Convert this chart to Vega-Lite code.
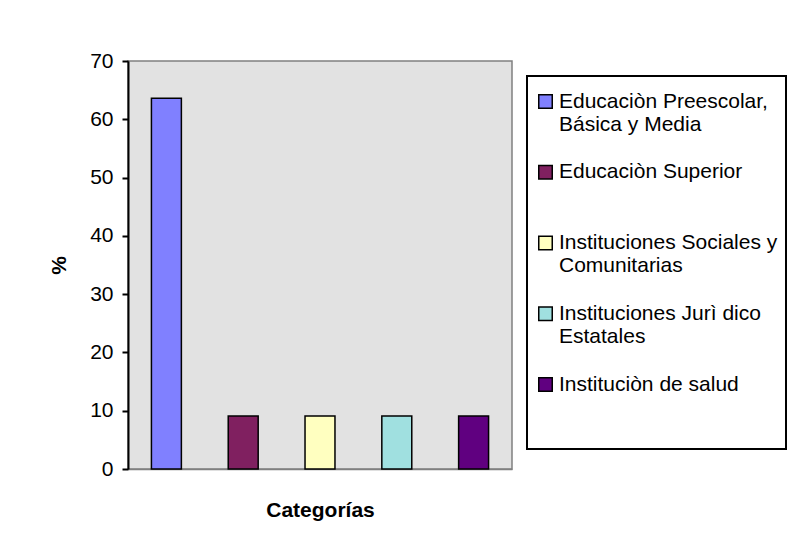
{
  "$schema": "https://vega.github.io/schema/vega-lite/v6.json",
  "width": 384,
  "height": 408,
  "autosize": {"type": "none"},
  "padding": {"left": 128, "top": 61, "right": 288, "bottom": 87},
  "background": "white",
  "data": {
    "values": [
      {"cat": "Educaciòn Preescolar, Básica y Media", "pct": 63.6},
      {"cat": "Educaciòn Superior", "pct": 9.1},
      {"cat": "Instituciones Sociales y Comunitarias", "pct": 9.1},
      {"cat": "Instituciones Jurì dico Estatales", "pct": 9.1},
      {"cat": "Instituciòn de salud", "pct": 9.1}
    ]
  },
  "mark": {"type": "bar", "stroke": "black", "strokeWidth": 1.5},
  "encoding": {
    "x": {
      "field": "cat",
      "type": "nominal",
      "sort": null,
      "scale": {"paddingInner": 0.61, "paddingOuter": 0.305},
      "axis": {
        "title": "Categorías",
        "labels": false,
        "ticks": false,
        "domainColor": "#808080",
        "domainWidth": 1.5,
        "titleFontSize": 21,
        "titleFontWeight": "bold",
        "titleColor": "black",
        "titlePadding": 30
      }
    },
    "y": {
      "field": "pct",
      "type": "quantitative",
      "scale": {"domain": [0, 70], "nice": false},
      "axis": {
        "title": "%",
        "values": [0, 10, 20, 30, 40, 50, 60, 70],
        "grid": false,
        "domainColor": "black",
        "domainWidth": 2,
        "tickColor": "black",
        "tickWidth": 2,
        "tickSize": 6,
        "labelFontSize": 21,
        "labelColor": "black",
        "labelPadding": 9,
        "titleFontSize": 21,
        "titleFontWeight": "bold",
        "titleColor": "black",
        "titlePadding": 20
      }
    },
    "color": {
      "field": "cat",
      "type": "nominal",
      "sort": null,
      "scale": {
        "domain": [
          "Educaciòn Preescolar, Básica y Media",
          "Educaciòn Superior",
          "Instituciones Sociales y Comunitarias",
          "Instituciones Jurì dico Estatales",
          "Instituciòn de salud"
        ],
        "range": ["#8080FF", "#802060", "#FFFFC0", "#A0E0E0", "#600080"]
      },
      "legend": {
        "orient": "none",
        "legendX": 399,
        "legendY": 15,
        "title": " ",
        "titleFontSize": 1,
        "titlePadding": 6,
        "fillColor": "white",
        "strokeColor": "black",
        "padding": 8,
        "symbolType": "square",
        "symbolSize": 182,
        "symbolStrokeColor": "black",
        "symbolStrokeWidth": 1.5,
        "symbolOpacity": 1,
        "labelFontSize": 21,
        "labelColor": "black",
        "labelLimit": 400,
        "labelBaseline": "top",
        "labelLineHeight": 23,
        "labelOffset": 3,
        "rowPadding": 25.75,
        "labelExpr": "datum.label == 'Educaciòn Preescolar, Básica y Media' ? ['Educaciòn Preescolar,', 'Básica y Media'] : datum.label == 'Instituciones Sociales y Comunitarias' ? ['Instituciones Sociales y', 'Comunitarias'] : datum.label == 'Instituciones Jurì dico Estatales' ? ['Instituciones Jurì dico', 'Estatales'] : datum.label == 'Instituciòn de salud' ? [datum.label, ' ', ' '] : [datum.label, ' ']",
        "encode": {
          "legend": {"update": {"strokeWidth": {"value": 2}}},
          "labels": {"update": {"dy": {"value": -11}}}
        }
      }
    }
  },
  "config": {
    "font": "Liberation Sans",
    "view": {"fill": "#E2E2E2", "stroke": "#808080", "strokeWidth": 1.5}
  }
}
